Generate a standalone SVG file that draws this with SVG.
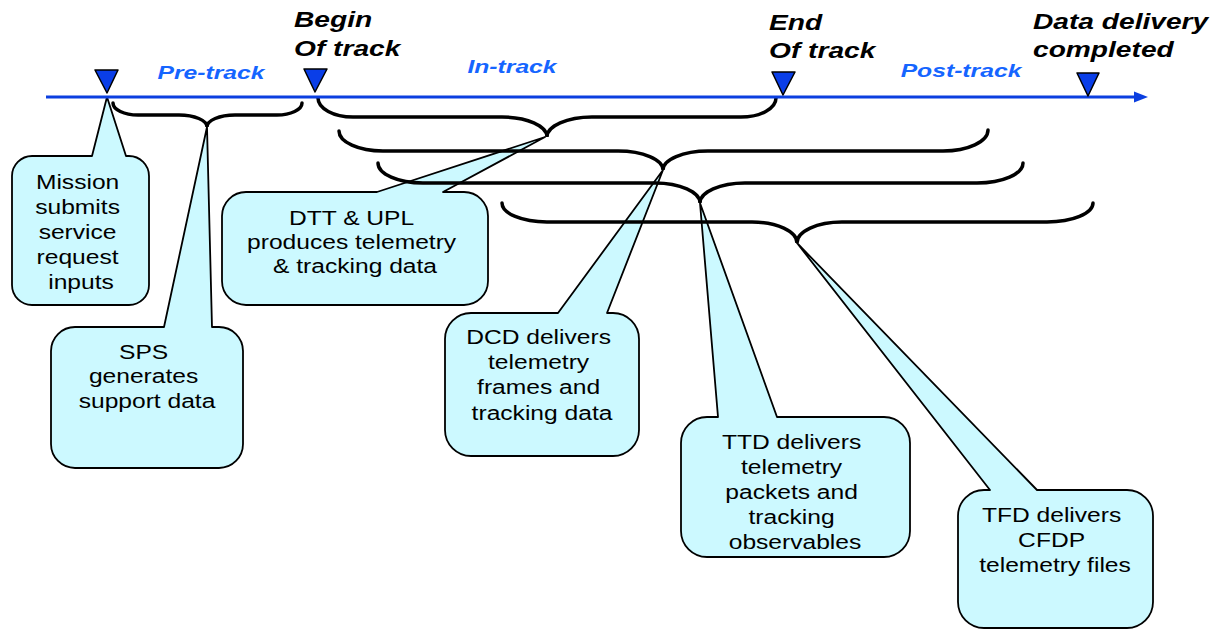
<svg xmlns="http://www.w3.org/2000/svg" width="1215" height="630" viewBox="0 0 1215 630">
  <style>
    .callout { fill: #ccf9ff; stroke: #000; stroke-width: 1.8; stroke-linejoin: round; }
    .body { font-family: "Liberation Sans", Arial, sans-serif; font-size: 20px; fill: #000; text-anchor: middle; }
    .milestone { font-family: "Liberation Sans", Arial, sans-serif; font-size: 22px; font-weight: bold; font-style: italic; fill: #000; }
    .phase { font-family: "Liberation Sans", Arial, sans-serif; font-size: 19px; font-weight: bold; font-style: italic; fill: #1565ff; text-anchor: middle; }
    .brace { fill: none; stroke: #000; stroke-width: 3.5; stroke-linecap: round; }
    .axis { stroke: #0b3fe0; stroke-width: 3; }
    .tick { fill: #0a3ee8; stroke: #000; stroke-width: 1.5; stroke-linejoin: round; }
  </style>

  <!-- Callouts -->
  <g id="mission">
    <path class="callout" d="M32,156 L92,156 L107,97 L126,156 L129,156 A20,20 0 0 1 149,176 L149,285 A20,20 0 0 1 129,305 L32,305 A20,20 0 0 1 12,285 L12,176 A20,20 0 0 1 32,156 Z"/>
    <text class="body" transform="translate(81,0) scale(1.23,1)">
      <tspan x="0" y="189">Mission</tspan>
      <tspan x="0" y="214">submits</tspan>
      <tspan x="0" y="239">service</tspan>
      <tspan x="0" y="264">request</tspan>
      <tspan x="0" y="289">inputs</tspan>
    </text>
  </g>

  <g id="sps">
    <path class="callout" d="M75,327 L164,327 L207,127 L212,327 L219,327 A24,24 0 0 1 243,351 L243,444 A24,24 0 0 1 219,468 L75,468 A24,24 0 0 1 51,444 L51,351 A24,24 0 0 1 75,327 Z"/>
    <text class="body" transform="translate(147,0) scale(1.23,1)">
      <tspan x="0" y="359">SPS</tspan>
      <tspan x="0" y="383">generates</tspan>
      <tspan x="0" y="408">support data</tspan>
    </text>
  </g>

  <g id="dtt-upl">
    <path class="callout" d="M246,192 L377,192 L545,137 L443,192 L464,192 A24,24 0 0 1 488,216 L488,281 A24,24 0 0 1 464,305 L246,305 A24,24 0 0 1 222,281 L222,216 A24,24 0 0 1 246,192 Z"/>
    <text class="body" transform="translate(355,0) scale(1.23,1)">
      <tspan x="0" y="225">DTT &amp; UPL</tspan>
      <tspan x="0" y="249">produces telemetry</tspan>
      <tspan x="0" y="273">&amp; tracking data</tspan>
    </text>
  </g>

  <g id="dcd">
    <path class="callout" d="M471,313 L558,313 L663,170 L607,313 L613,313 A26,26 0 0 1 639,339 L639,430 A26,26 0 0 1 613,456 L471,456 A26,26 0 0 1 445,430 L445,339 A26,26 0 0 1 471,313 Z"/>
    <text class="body" transform="translate(542,0) scale(1.23,1)">
      <tspan x="0" y="344">DCD delivers</tspan>
      <tspan x="0" y="369">telemetry</tspan>
      <tspan x="0" y="394">frames and</tspan>
      <tspan x="0" y="420">tracking data</tspan>
    </text>
  </g>

  <g id="ttd">
    <path class="callout" d="M707,417 L718,417 L700,203 L777,417 L884,417 A26,26 0 0 1 910,443 L910,531 A26,26 0 0 1 884,557 L707,557 A26,26 0 0 1 681,531 L681,443 A26,26 0 0 1 707,417 Z"/>
    <text class="body" transform="translate(795,0) scale(1.23,1)">
      <tspan x="0" y="449">TTD delivers</tspan>
      <tspan x="0" y="474">telemetry</tspan>
      <tspan x="0" y="499">packets and</tspan>
      <tspan x="0" y="524">tracking</tspan>
      <tspan x="0" y="549">observables</tspan>
    </text>
  </g>

  <g id="tfd">
    <path class="callout" d="M984,490 L990,490 L797,243 L1037,490 L1127,490 A26,26 0 0 1 1153,516 L1153,602 A26,26 0 0 1 1127,628 L984,628 A26,26 0 0 1 958,602 L958,516 A26,26 0 0 1 984,490 Z"/>
    <text class="body" transform="translate(1055,0) scale(1.23,1)">
      <tspan x="0" y="522">TFD delivers</tspan>
      <tspan x="0" y="547">CFDP</tspan>
      <tspan x="0" y="572">telemetry files</tspan>
    </text>
  </g>

  <!-- Braces spanning each phase -->
  <g id="connectors">
    <path class="brace" d="M113,103 A25,12 0 0 0 138,115 L179,115 A28,12 0 0 1 207,127 A28,12 0 0 1 235,115 L277,115 A25,12 0 0 0 302,103"/>
    <path class="brace" d="M318,98 A35,19 0 0 0 353,117 L502,117 A45,20 0 0 1 547,137 A45,20 0 0 1 592,117 L741,117 A35,19 0 0 0 776,98"/>
    <path class="brace" d="M339,131 A44,20 0 0 0 383,151 L618,151 A45,19 0 0 1 663,170 A45,19 0 0 1 708,151 L943,151 A45,21 0 0 0 988,130"/>
    <path class="brace" d="M378,163 A45,20 0 0 0 423,183 L655,183 A45,20 0 0 1 700,203 A45,20 0 0 1 745,183 L977,183 A46,20 0 0 0 1023,163"/>
    <path class="brace" d="M502,203 A45,19 0 0 0 547,222 L752,222 A45,21 0 0 1 797,243 A45,21 0 0 1 842,222 L1047,222 A46,19 0 0 0 1093,203"/>
  </g>

  <!-- Timeline -->
  <g id="timeline">
    <line class="axis" x1="46" y1="97" x2="1137" y2="97"/>
    <polygon points="1134,91.5 1148,97 1134,102.5" fill="#0b3fe0"/>
    <polygon class="tick" points="95,70 118,70 107,93"/>
    <polygon class="tick" points="304,69 327,69 315,92"/>
    <polygon class="tick" points="772,72 795,72 783,95"/>
    <polygon class="tick" points="1077,73 1099,73 1088,96"/>
  </g>

  <!-- Milestone labels -->
  <g id="labels">
    <text class="milestone" transform="translate(294,0) scale(1.28,1)"><tspan x="0" y="27">Begin</tspan><tspan x="0" y="56">Of track</tspan></text>
    <text class="milestone" transform="translate(769,0) scale(1.28,1)"><tspan x="0" y="30">End</tspan><tspan x="0" y="58">Of track</tspan></text>
    <text class="milestone" transform="translate(1033,0) scale(1.28,1)"><tspan x="0" y="29">Data delivery</tspan><tspan x="0" y="57">completed</tspan></text>
    <text class="phase" transform="translate(211,0) scale(1.3,1)" x="0" y="79">Pre-track</text>
    <text class="phase" transform="translate(512,0) scale(1.3,1)" x="0" y="73">In-track</text>
    <text class="phase" transform="translate(961,0) scale(1.3,1)" x="0" y="77">Post-track</text>
  </g>
</svg>
